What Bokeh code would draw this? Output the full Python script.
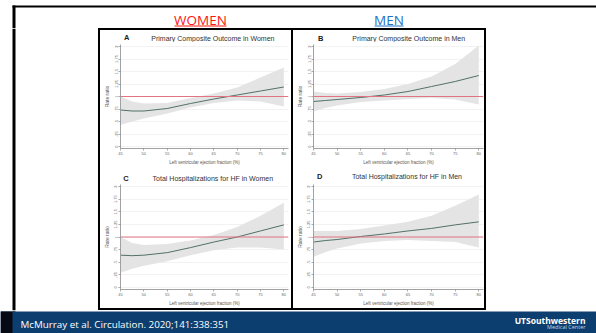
from bokeh.plotting import figure
from bokeh.layouts import row, column
from bokeh.models import Spacer, FixedTicker, Span, Range1d
from bokeh.embed import file_html
from bokeh.resources import INLINE
from bokeh.core.properties import value

# ---------------- data ----------------
ef = [45, 47.5, 50, 55, 60, 65, 70, 75, 80]

a_rr = [0.73, 0.71, 0.71, 0.76, 0.86, 0.95, 1.03, 1.11, 1.19]
a_lo = [0.43, 0.50, 0.56, 0.66, 0.78, 0.87, 0.92, 0.90, 0.80]
a_hi = [1.00, 0.90, 0.86, 0.87, 0.97, 1.06, 1.18, 1.38, 1.58]

b_rr = [0.90, 0.92, 0.94, 0.98, 1.03, 1.10, 1.20, 1.30, 1.42]
b_lo = [0.70, 0.77, 0.82, 0.89, 0.92, 0.95, 0.97, 0.94, 0.84]
b_hi = [1.10, 1.07, 1.06, 1.09, 1.15, 1.25, 1.40, 1.65, 2.02]

c_rr = [0.64, 0.63, 0.64, 0.69, 0.79, 0.90, 1.00, 1.12, 1.24]
c_lo = [0.29, 0.37, 0.43, 0.52, 0.64, 0.74, 0.79, 0.79, 0.75]
c_hi = [1.00, 0.88, 0.84, 0.86, 0.93, 1.04, 1.20, 1.42, 1.68]

d_rr = [0.90, 0.93, 0.95, 1.01, 1.06, 1.12, 1.17, 1.24, 1.30]
d_lo = [0.61, 0.70, 0.77, 0.87, 0.92, 0.94, 0.92, 0.90, 0.79]
d_hi = [1.12, 1.12, 1.12, 1.16, 1.23, 1.30, 1.42, 1.62, 1.84]

y_ticks = [0, 0.25, 0.5, 0.75, 1, 1.25, 1.5, 1.75, 2]
y_tick_labels = ["0", ".25", ".5", ".75", "1", "1.25", "1.5", "1.75", "2"]
x_ticks = [45, 50, 55, 60, 65, 70, 75, 80]
reference_rr = 1

titles = ["Primary Composite Outcome in Women", "Primary Composite Outcome in Men",
          "Total Hospitalizations for HF in Women", "Total Hospitalizations for HF in Men"]
letters = ["A", "B", "C", "D"]
headers = ["WOMEN", "MEN"]
citation = "McMurray et al. Circulation. 2020;141:338:351"
logo_main = "UTSouthwestern"
logo_sub = "Medical Center"

FONT = "Liberation Sans"
BAND = "#e3e4e3"
CURVE = "#52706a"
RED = "#e27380"
NAVY = "#0c3e6f"
RED_HEAD = "#ff1414"
BLUE_HEAD = "#1f72c2"


def blank(w, h, x0, x1, y0, y1, bg="white"):
    f = figure(width=w, height=h, x_range=Range1d(x0, x1), y_range=Range1d(y1, y0),
               output_backend="svg", toolbar_location=None, min_border=0,
               x_axis_type=None, y_axis_type=None, outline_line_color=None,
               background_fill_color=bg, border_fill_color=bg)
    f.xgrid.visible = False
    f.ygrid.visible = False
    return f


def make_strip(letter, title, x0, y0, h, title_x, title_y, letter_x, letter_y):
    s = blank(191, h, x0, x0 + 191, y0, y0 + h)
    s.text(x=[title_x], y=[title_y], text=[title], text_color="#333333",
           text_font=value(FONT), text_font_size="7px",
           text_align="center", text_baseline="middle")
    s.text(x=[letter_x], y=[letter_y], text=[letter], text_color="#222222",
           text_font=value(FONT), text_font_size="7.5px", text_font_style="bold",
           text_align="left", text_baseline="middle")
    return s


def make_panel(rr, lo, hi, frame_h, bottom_border, left_border):
    p = figure(width=191, height=2 + frame_h + bottom_border,
               x_range=Range1d(45, 81), y_range=Range1d(-0.04, 2.04),
               output_backend="svg", toolbar_location=None,
               min_border_left=left_border, min_border_right=191 - left_border - 171,
               min_border_top=2, min_border_bottom=bottom_border,
               background_fill_color="white", border_fill_color="white",
               outline_line_color=None)

    p.varea(x=ef, y1=lo, y2=hi, fill_color=BAND, fill_alpha=1)
    p.add_layout(Span(location=reference_rr, dimension="width", line_color=RED, line_width=1.0))
    p.line(x=ef, y=rr, line_color=CURVE, line_width=1.0)

    p.xgrid.visible = False
    p.ygrid.ticker = FixedTicker(ticks=y_ticks)
    p.ygrid.grid_line_color = "#efefef"
    p.ygrid.grid_line_width = 0.8

    for ax in (p.xaxis[0], p.yaxis[0]):
        ax.axis_line_color = "#8a8a8a"
        ax.axis_line_width = 0.8
        ax.major_tick_line_color = "#8a8a8a"
        ax.major_tick_line_width = 0.7
        ax.minor_tick_line_color = None
        ax.major_tick_in = 0
        ax.major_tick_out = 2
        ax.major_label_standoff = 1
        ax.major_label_text_font = FONT
        ax.major_label_text_font_size = "4px"
        ax.major_label_text_color = "#666666"
        ax.axis_label_text_font = FONT
        ax.axis_label_text_font_size = "4.5px"
        ax.axis_label_text_font_style = "normal"
        ax.axis_label_text_color = "#555555"
        ax.axis_label_standoff = 2

    p.xaxis.ticker = FixedTicker(ticks=x_ticks)
    p.xaxis.axis_label = "Left ventricular ejection fraction (%)"
    p.yaxis.ticker = FixedTicker(ticks=y_ticks)
    p.yaxis.major_label_overrides = {t: l for t, l in zip(y_ticks, y_tick_labels)}
    p.yaxis.major_label_orientation = "vertical"
    p.yaxis.axis_label = "Rate ratio"
    p.yaxis.axis_label_text_font_size = "5px"
    return p


# page coordinates: column 1 spans x 100..291, column 2 spans x 293..484
sa = make_strip(letters[0], titles[0], 100, 30, 12, 205, 38, 104, 37)
pa = make_panel(a_rr, a_lo, a_hi, 104, 21, 17)
sc = make_strip(letters[2], titles[2], 100, 169, 13, 205, 178, 103, 178)
pc = make_panel(c_rr, c_lo, c_hi, 106, 18, 17)
sb = make_strip(letters[1], titles[1], 293, 30, 12, 400, 38, 298, 38)
pb = make_panel(b_rr, b_lo, b_hi, 104, 21, 19)
sd = make_strip(letters[3], titles[3], 293, 169, 13, 398, 176, 297, 176)
pd = make_panel(d_rr, d_lo, d_hi, 106, 18, 19)

# header (x 0..596, y 0..28)
header = blank(596, 28, 0, 596, 0, 28)
header.quad(left=12, right=596, top=5, bottom=7, fill_color="black", line_color=None)
header.quad(left=12, right=15, top=5, bottom=28, fill_color="black", line_color=None)
header.text(x=[200, 388.5], y=[19, 19], text=headers, text_color=[RED_HEAD, BLUE_HEAD],
            text_font=value("Open Sans"), text_font_size="13.5px",
            text_align="center", text_baseline="middle")
header.segment(x0=[174, 374], y0=[25.5, 25.5], x1=[226, 403], y1=[25.5, 25.5],
               line_color=[RED_HEAD, BLUE_HEAD], line_width=1)

# left margin (x 0..98, y 28..310)
left = blank(98, 282, 0, 98, 28, 310)
left.quad(left=12, right=15, top=28, bottom=310, fill_color="black", line_color=None)

right = Spacer(width=110, height=282)


def bar(w, h):
    return Spacer(width=w, height=h, styles={"background-color": "black"})


block = column(
    bar(388, 2),
    row(bar(2, 278), column(sa, pa, sc, pc), bar(2, 278), column(sb, pb, sd, pd), bar(2, 278)),
    bar(388, 2),
)

middle = row(left, block, right)

# footer (x 0..596, y 310..333)
footer = blank(596, 23, 0, 596, 310, 333, bg="white")
footer.quad(left=0, right=596, top=311, bottom=333, fill_color=NAVY, line_color=None)
footer.quad(left=0, right=12, top=311, bottom=333, fill_color="#050a14", line_color=None)
footer.quad(left=12, right=15, top=310, bottom=311, fill_color="black", line_color=None)
footer.text(x=[20], y=[323.5], text=[citation], text_color="white",
            text_font=value("Open Sans"), text_font_size="9.8px",
            text_align="left", text_baseline="middle")
footer.text(x=[585], y=[320], text=[logo_main], text_color="white",
            text_font=value("Open Sans"), text_font_size="8.5px", text_font_style="bold",
            text_align="right", text_baseline="middle")
footer.text(x=[585], y=[326.5], text=[logo_sub], text_color="#c9d3e0",
            text_font=value("Open Sans"), text_font_size="5.5px",
            text_align="right", text_baseline="middle")

page = column(header, middle, footer)

open("out.html", "w").write(file_html(page, INLINE))
